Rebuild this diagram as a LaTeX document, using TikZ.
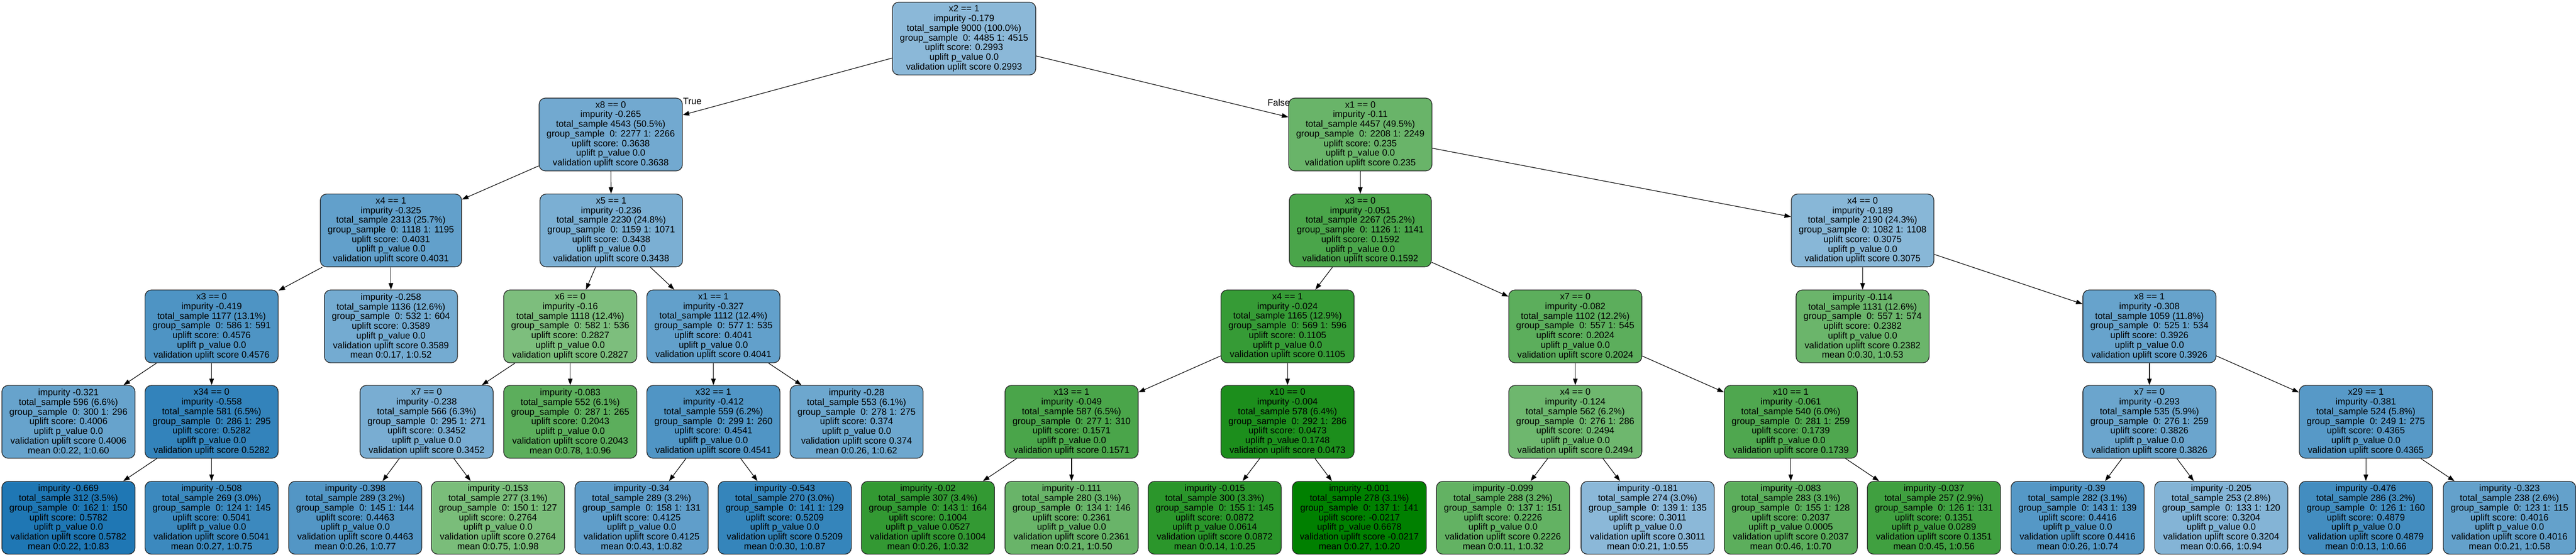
\documentclass[tikz,border=0pt]{standalone}
\usepackage{fontspec}
\setmainfont{Liberation Sans}
\usetikzlibrary{arrows.meta}
\definecolor{upblue}{RGB}{31,119,180}
\definecolor{upgreen}{RGB}{0,128,0}
\def\splitbox#1#2#3#4#5#6#7{#1\\impurity #2\\total\_sample #3\\group\_sample\ \ 0: #4 1: #5\\uplift score: #6\\uplift p\_value #7\\validation uplift score #6}
\def\leafbox#1#2#3#4#5#6#7#8{impurity #1\\total\_sample #2\\group\_sample\ \ 0: #3 1: #4\\uplift score: #5\\uplift p\_value #6\\validation uplift score #5\\mean 0:#7, 1:#8}
\tikzset{
	treebox/.style={draw=black!85, line width=0.4pt, rounded corners=0.13cm, align=center, minimum height=1.51cm, inner xsep=0.155cm, inner ysep=0pt, font=\fontsize{5.4pt}{5.7pt}\selectfont},
	bluebox/.style={treebox, fill=upblue!#1!white},
	greenbox/.style={treebox, fill=upgreen!#1!white},
	treearrow/.style={line width=0.35pt, -{Triangle[length=1.35mm, width=0.95mm]}},
	edgelabel/.style={inner sep=0pt, font=\fontsize{5.4pt}{5.7pt}\selectfont}
}

\begin{document}
\begin{tikzpicture}
		%%%%% START %%%%%
		
		\path[use as bounding box, fill=white] (0, 0) rectangle (53.44, -11.55);
		
		% depth 0 and 1
		\node[bluebox=52] (r) at (20.00, -0.80) {\splitbox{x2 == 1}{-0.179}{9000 (100.0\%)}{4485}{4515}{0.2993}{0.0}};
		\node[bluebox=63] (a) at (12.67, -2.79) {\splitbox{x8 == 0}{-0.265}{4543 (50.5\%)}{2277}{2266}{0.3638}{0.0}};
		\node[greenbox=59] (b) at (28.22, -2.79) {\splitbox{x1 == 0}{-0.11}{4457 (49.5\%)}{2208}{2249}{0.235}{0.0}};
		
		% depth 2
		\node[bluebox=70] (aa) at (8.11, -4.78) {\splitbox{x4 == 1}{-0.325}{2313 (25.7\%)}{1118}{1195}{0.4031}{0.0}};
		\node[bluebox=59] (ab) at (12.68, -4.78) {\splitbox{x5 == 1}{-0.236}{2230 (24.8\%)}{1159}{1071}{0.3438}{0.0}};
		\node[greenbox=71] (ba) at (28.22, -4.78) {\splitbox{x3 == 0}{-0.051}{2267 (25.2\%)}{1126}{1141}{0.1592}{0.0}};
		\node[bluebox=53] (bb) at (38.64, -4.78) {\splitbox{x4 == 0}{-0.189}{2190 (24.3\%)}{1082}{1108}{0.3075}{0.0}};
		
		% depth 3
		\node[bluebox=79] (aaa) at (4.39, -6.77) {\splitbox{x3 == 0}{-0.419}{1177 (13.1\%)}{586}{591}{0.4576}{0.0}};
		\node[bluebox=62] (aab) at (8.11, -6.77) {\leafbox{-0.258}{1136 (12.6\%)}{532}{604}{0.3589}{0.0}{0.17}{0.52}};
		\node[greenbox=51] (aba) at (11.83, -6.77) {\splitbox{x6 == 0}{-0.16}{1118 (12.4\%)}{582}{536}{0.2827}{0.0}};
		\node[bluebox=70] (abb) at (14.80, -6.77) {\splitbox{x1 == 1}{-0.327}{1112 (12.4\%)}{577}{535}{0.4041}{0.0}};
		\node[greenbox=79] (baa) at (26.71, -6.77) {\splitbox{x4 == 1}{-0.024}{1165 (12.9\%)}{569}{596}{0.1105}{0.0}};
		\node[greenbox=64] (bab) at (32.68, -6.77) {\splitbox{x7 == 0}{-0.082}{1102 (12.2\%)}{557}{545}{0.2024}{0.0}};
		\node[greenbox=58] (bba) at (38.64, -6.77) {\leafbox{-0.114}{1131 (12.6\%)}{557}{574}{0.2382}{0.0}{0.30}{0.53}};
		\node[bluebox=68] (bbb) at (44.59, -6.77) {\splitbox{x8 == 1}{-0.308}{1059 (11.8\%)}{525}{534}{0.3926}{0.0}};
		
		% depth 4
		\node[bluebox=68] (aaaa) at (1.42, -8.75) {\leafbox{-0.321}{596 (6.6\%)}{300}{296}{0.4006}{0.0}{0.22}{0.60}};
		\node[bluebox=91] (aaab) at (4.39, -8.75) {\splitbox{x34 == 0}{-0.558}{581 (6.5\%)}{286}{295}{0.5282}{0.0}};
		\node[bluebox=60] (abaa) at (8.85, -8.75) {\splitbox{x7 == 0}{-0.238}{566 (6.3\%)}{295}{271}{0.3452}{0.0}};
		\node[greenbox=64] (abab) at (11.83, -8.75) {\leafbox{-0.083}{552 (6.1\%)}{287}{265}{0.2043}{0.0}{0.78}{0.96}};
		\node[bluebox=78] (abba) at (14.80, -8.75) {\splitbox{x32 == 1}{-0.412}{559 (6.2\%)}{299}{260}{0.4541}{0.0}};
		\node[bluebox=65] (abbb) at (17.77, -8.75) {\leafbox{-0.28}{553 (6.1\%)}{278}{275}{0.374}{0.0}{0.26}{0.62}};
		\node[greenbox=71] (baaa) at (22.23, -8.75) {\splitbox{x13 == 1}{-0.049}{587 (6.5\%)}{277}{310}{0.1571}{0.0}};
		\node[greenbox=89] (baab) at (26.71, -8.75) {\splitbox{x10 == 0}{-0.004}{578 (6.4\%)}{292}{286}{0.0473}{0.1748}};
		\node[greenbox=57] (baba) at (32.68, -8.75) {\splitbox{x4 == 0}{-0.124}{562 (6.2\%)}{276}{286}{0.2494}{0.0}};
		\node[greenbox=69] (babb) at (37.15, -8.75) {\splitbox{x10 == 1}{-0.061}{540 (6.0\%)}{281}{259}{0.1739}{0.0}};
		\node[bluebox=66] (bbba) at (44.59, -8.75) {\splitbox{x7 == 0}{-0.293}{535 (5.9\%)}{276}{259}{0.3826}{0.0}};
		\node[bluebox=75] (bbbb) at (49.08, -8.75) {\splitbox{x29 == 1}{-0.381}{524 (5.8\%)}{249}{275}{0.4365}{0.0}};
		
		% depth 5, leaves
		\node[bluebox=100] (aaaba) at (1.42, -10.74) {\leafbox{-0.669}{312 (3.5\%)}{162}{150}{0.5782}{0.0}{0.22}{0.83}};
		\node[bluebox=87] (aaabb) at (4.39, -10.74) {\leafbox{-0.508}{269 (3.0\%)}{124}{145}{0.5041}{0.0}{0.27}{0.75}};
		\node[bluebox=77] (abaaa) at (7.37, -10.74) {\leafbox{-0.398}{289 (3.2\%)}{145}{144}{0.4463}{0.0}{0.26}{0.77}};
		\node[greenbox=52] (abaab) at (10.33, -10.74) {\leafbox{-0.153}{277 (3.1\%)}{150}{127}{0.2764}{0.0}{0.75}{0.98}};
		\node[bluebox=71] (abbaa) at (13.31, -10.74) {\leafbox{-0.34}{289 (3.2\%)}{158}{131}{0.4125}{0.0}{0.43}{0.82}};
		\node[bluebox=90] (abbab) at (16.28, -10.74) {\leafbox{-0.543}{270 (3.0\%)}{141}{129}{0.5209}{0.0}{0.30}{0.87}};
		\node[greenbox=80] (baaaa) at (19.25, -10.74) {\leafbox{-0.02}{307 (3.4\%)}{143}{164}{0.1004}{0.0527}{0.26}{0.32}};
		\node[greenbox=59] (baaab) at (22.23, -10.74) {\leafbox{-0.111}{280 (3.1\%)}{134}{146}{0.2361}{0.0}{0.21}{0.50}};
		\node[greenbox=83] (baaba) at (25.20, -10.74) {\leafbox{-0.015}{300 (3.3\%)}{155}{145}{0.0872}{0.0614}{0.14}{0.25}};
		\node[greenbox=100] (baabb) at (28.20, -10.74) {\leafbox{-0.001}{278 (3.1\%)}{137}{141}{-0.0217}{0.6678}{0.27}{0.20}};
		\node[greenbox=61] (babaa) at (31.18, -10.74) {\leafbox{-0.099}{288 (3.2\%)}{137}{151}{0.2226}{0.0}{0.11}{0.32}};
		\node[bluebox=52] (babab) at (34.18, -10.74) {\leafbox{-0.181}{274 (3.0\%)}{139}{135}{0.3011}{0.0}{0.21}{0.55}};
		\node[greenbox=64] (babba) at (37.15, -10.74) {\leafbox{-0.083}{283 (3.1\%)}{155}{128}{0.2037}{0.0005}{0.46}{0.70}};
		\node[greenbox=75] (babbb) at (40.12, -10.74) {\leafbox{-0.037}{257 (2.9\%)}{126}{131}{0.1351}{0.0289}{0.45}{0.56}};
		\node[bluebox=76] (bbbaa) at (43.10, -10.74) {\leafbox{-0.39}{282 (3.1\%)}{143}{139}{0.4416}{0.0}{0.26}{0.74}};
		\node[bluebox=55] (bbbab) at (46.08, -10.74) {\leafbox{-0.205}{253 (2.8\%)}{133}{120}{0.3204}{0.0}{0.66}{0.94}};
		\node[bluebox=84] (bbbba) at (49.08, -10.74) {\leafbox{-0.476}{286 (3.2\%)}{126}{160}{0.4879}{0.0}{0.13}{0.66}};
		\node[bluebox=69] (bbbbb) at (52.06, -10.74) {\leafbox{-0.323}{238 (2.6\%)}{123}{115}{0.4016}{0.0}{0.21}{0.58}};
		
		% arrows
		\draw[treearrow] (r) -- (a);
		\draw[treearrow] (r) -- (b);
		\draw[treearrow] (a) -- (aa);
		\draw[treearrow] (a) -- (ab);
		\draw[treearrow] (b) -- (ba);
		\draw[treearrow] (b) -- (bb);
		\draw[treearrow] (aa) -- (aaa);
		\draw[treearrow] (aa) -- (aab);
		\draw[treearrow] (ab) -- (aba);
		\draw[treearrow] (ab) -- (abb);
		\draw[treearrow] (ba) -- (baa);
		\draw[treearrow] (ba) -- (bab);
		\draw[treearrow] (bb) -- (bba);
		\draw[treearrow] (bb) -- (bbb);
		\draw[treearrow] (aaa) -- (aaaa);
		\draw[treearrow] (aaa) -- (aaab);
		\draw[treearrow] (aba) -- (abaa);
		\draw[treearrow] (aba) -- (abab);
		\draw[treearrow] (abb) -- (abba);
		\draw[treearrow] (abb) -- (abbb);
		\draw[treearrow] (baa) -- (baaa);
		\draw[treearrow] (baa) -- (baab);
		\draw[treearrow] (bab) -- (baba);
		\draw[treearrow] (bab) -- (babb);
		\draw[treearrow] (bbb) -- (bbba);
		\draw[treearrow] (bbb) -- (bbbb);
		\draw[treearrow] (aaab) -- (aaaba);
		\draw[treearrow] (aaab) -- (aaabb);
		\draw[treearrow] (abaa) -- (abaaa);
		\draw[treearrow] (abaa) -- (abaab);
		\draw[treearrow] (abba) -- (abbaa);
		\draw[treearrow] (abba) -- (abbab);
		\draw[treearrow] (baaa) -- (baaaa);
		\draw[treearrow] (baaa) -- (baaab);
		\draw[treearrow] (baab) -- (baaba);
		\draw[treearrow] (baab) -- (baabb);
		\draw[treearrow] (baba) -- (babaa);
		\draw[treearrow] (baba) -- (babab);
		\draw[treearrow] (babb) -- (babba);
		\draw[treearrow] (babb) -- (babbb);
		\draw[treearrow] (bbba) -- (bbbaa);
		\draw[treearrow] (bbba) -- (bbbab);
		\draw[treearrow] (bbbb) -- (bbbba);
		\draw[treearrow] (bbbb) -- (bbbbb);
		
		\node[edgelabel, anchor=north west] (truelabel) at (a.north east) {True};
		\node[edgelabel, anchor=north east] (falselabel) at ([xshift=0.04cm, yshift=-0.02cm]b.north west) {False};
		
		%%%%% END %%%%%
\end{tikzpicture}
\end{document}
